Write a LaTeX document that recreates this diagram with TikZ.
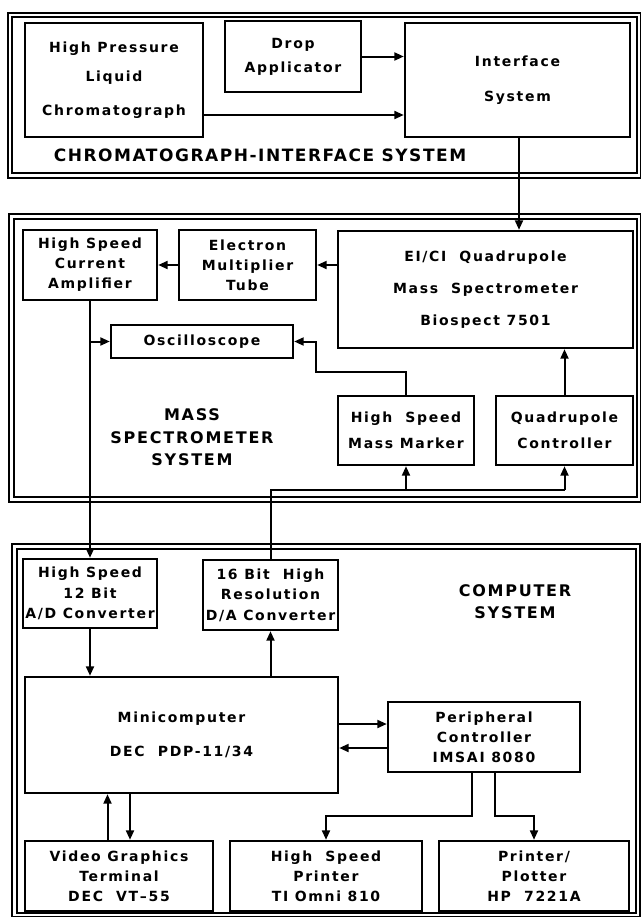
\documentclass[tikz,border=0pt]{standalone}
\usepackage{fontspec}
\setmainfont{DejaVu Sans}
\newfontfamily\boxfam[LetterSpace=12]{DejaVu Sans Bold}
\newfontfamily\headfam[LetterSpace=11]{DejaVu Sans Bold}
\newfontfamily\chromfam[LetterSpace=9]{DejaVu Sans Bold}
\usetikzlibrary{arrows.meta,calc}
\newcommand\mkbox[6]{\node[box, minimum width={#4-#2}, minimum height={#5-#3}] (#1) at ({(#2+#4)/2},{(#3+#5)/2}) {#6};}
\begin{document}
\begin{tikzpicture}[x=1pt,y=-1pt,
 box/.style={draw, line width=2.4pt, inner sep=0pt, align=center, font=\boxfam\fontsize{14}{16}\selectfont},
 frame/.style={draw, line width=1.8pt},
 conn/.style={line width=2pt},
 arr/.style={conn, -{Triangle[length=9.5pt,width=8pt]}},
 head/.style={align=center, inner sep=0pt, font=\headfam\fontsize{16}{22.5}\selectfont}]
\fill[white] (0,0) rectangle (641,918);
\useasboundingbox (0,0) rectangle (641,918);
% frames
\draw[frame] (8,13) rectangle (640.5,178);
\draw[frame] (12,17) rectangle (637,173);
\draw[frame] (9,214) rectangle (640.5,502);
\draw[frame] (14,219) rectangle (637,497);
\draw[frame] (12,544) rectangle (640,916.5);
\draw[frame] (17,549) rectangle (636,913);
% boxes
\mkbox{hplc}{25}{23}{203}{137}{High Pressure\\[13pt]Liquid\\[18pt]Chromatograph}
\mkbox{drop}{225}{21}{361}{92}{Drop\\[8pt]Applicator}
\mkbox{inter}{405}{23}{630}{137}{Interface\\[19pt]System}
\mkbox{hsca}{23}{230}{157}{300}{High Speed\\[4pt]Current\\[4pt]Amplifier}
\mkbox{emt}{179}{230}{316}{300}{Electron\\[4pt]Multiplier\\[4pt]Tube}
\mkbox{eici}{338}{231}{633}{348}{EI/CI\ \ Quadrupole\\[16pt]Mass\ \ Spectrometer\\[16pt]Biospect 7501}
\mkbox{osc}{111}{325}{293}{358}{Oscilloscope}
\mkbox{mm}{338}{396}{474}{465}{High\ \ Speed\\[10pt]Mass Marker}
\mkbox{qc}{496}{396}{633}{465}{Quadrupole\\[10pt]Controller}
\mkbox{ad}{23}{559}{157}{628}{High Speed\\[4.5pt]12 Bit\\[4.5pt]A/D Converter}
\mkbox{da}{203}{560}{338}{630}{16 Bit\ \ High\\[4.5pt]Resolution\\[4.5pt]D/A Converter}
\mkbox{mini}{25}{677}{338}{793}{Minicomputer\\[18pt]DEC\ \ PDP-11/34}
\mkbox{pc}{388}{702}{580}{772}{Peripheral\\[4pt]Controller\\[4pt]IMSAI 8080}
\mkbox{vgt}{25}{841}{213}{911}{Video Graphics\\[4pt]Terminal\\[4pt]DEC\ \ VT–55}
\mkbox{hsp}{230}{841}{422}{911}{High\ \ Speed\\[4pt]Printer\\[4pt]TI Omni 810}
\mkbox{pp}{439}{841}{629}{911}{Printer/\\[4pt]Plotter\\[4pt]HP\ \ 7221A}
% headings
\node[head, font=\chromfam\fontsize{17}{20}\selectfont] (chromlbl) at (260,155) {CHROMATOGRAPH-INTERFACE SYSTEM};
\node[head] (msslbl) at (192,437.5) {MASS\\SPECTROMETER\\SYSTEM};
\node[head] (complbl) at (515,601.5) {COMPUTER\\SYSTEM};
% connectors, chromatograph-interface
\draw[arr] (drop.east) -- (drop.east -| inter.west);
\coordinate (h1) at ($(hplc.east)+(0,35)$);
\draw[arr] (h1) -- (h1 -| inter.west);
\coordinate (i1) at ($(inter.south)+(1.5,0)$);
\draw[arr] (i1) -- (i1 |- eici.north);
% mass spectrometer
\draw[arr] (eici.west |- emt.east) -- (emt.east);
\draw[arr] (emt.west) -- (hsca.east);
\draw[arr] (hsca.south) -- (ad.north);
\draw[arr] (hsca.south |- osc.west) -- (osc.west);
\coordinate (m1) at ($(mm.north)+(0,-23)$);
\coordinate (m2) at ($(osc.east)+(22,0)$);
\draw[arr] (mm.north) -- (m1) -| (m2) -- (osc.east);
\draw[arr] (qc.north) -- (qc.north |- eici.south);
\coordinate (b1) at ($(mm.south)+(0,24)$);
\coordinate (b2) at ($(qc.south)+(0,24)$);
\draw[conn] (da.north) |- (b2);
\draw[arr] (b1) -- (mm.south);
\draw[arr] (b2) -- (qc.south);
% computer
\draw[arr] (ad.south) -- (ad.south |- mini.north);
\draw[arr] (da.south |- mini.north) -- (da.south);
\coordinate (p1) at ($(mini.east)+(0,-11)$);
\draw[arr] (p1) -- (p1 -| pc.west);
\coordinate (p2) at ($(mini.east)+(0,13)$);
\draw[arr] (p2 -| pc.west) -- (p2);
\coordinate (v1) at ($(vgt.north)+(-11.5,0)$);
\draw[arr] (v1) -- (v1 |- mini.south);
\coordinate (v2) at ($(vgt.north)+(11,0)$);
\draw[arr] (v2 |- mini.south) -- (v2);
\coordinate (c1) at ($(pc.south)+(-12,0)$);
\coordinate (c2) at ($(hsp.north)+(0,-24)$);
\draw[arr] (c1) |- (c2) -- (hsp.north);
\coordinate (c3) at ($(pc.south)+(11,0)$);
\coordinate (c4) at ($(pp.north)+(0,-24)$);
\draw[arr] (c3) |- (c4) -- (pp.north);
\end{tikzpicture}
\end{document}
